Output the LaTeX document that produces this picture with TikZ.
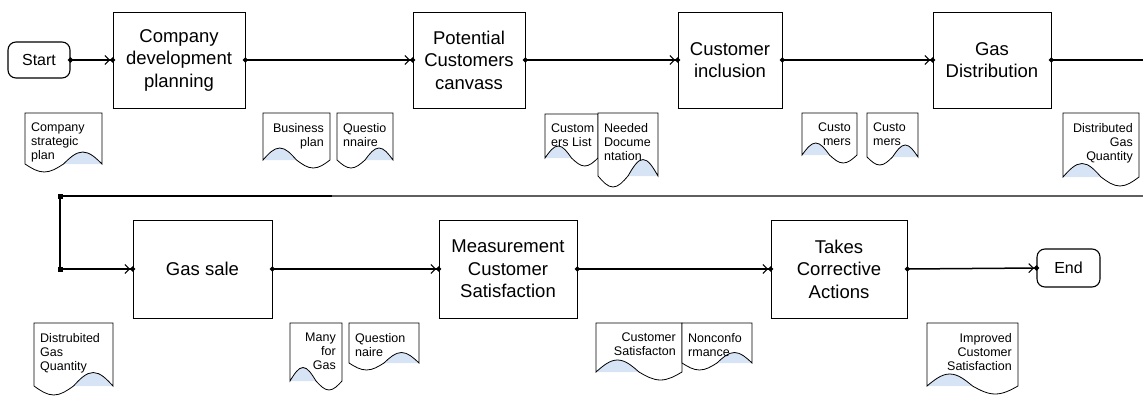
\documentclass[tikz,border=0pt]{standalone}
\usepackage{fontspec}
\setmainfont{Liberation Sans}
\usetikzlibrary{arrows.meta}
\definecolor{docblue}{RGB}{214,228,246}
\definecolor{wrapgray}{RGB}{95,95,95}

\tikzset{
  stepbox/.style={draw, line width=0.8pt, inner sep=0pt, align=center,
    font=\fontsize{18.5}{22.5}\selectfont},
  boxfoot/.style={line width=1.7pt},
  terminal/.style={draw, line width=1.1pt, rounded corners=8pt, inner sep=0pt,
    font=\fontsize{16}{18}\selectfont},
  doctext/.style={inner sep=0pt, font=\fontsize{12.5}{14}\selectfont},
  docline/.style={line width=0.8pt},
  flowline/.style={line width=1.5pt},
  flow/.style={flowline, shorten <=-2.5pt, shorten >=-2.5pt,
    arrows={Circle[length=5pt]-Straight Barb[length=4.5pt,width=9pt,line width=1pt]Circle[length=5pt]}},
  flowout/.style={flowline, shorten <=-2.5pt, arrows={Circle[length=5pt]-}},
  flowin/.style={flowline, shorten >=-2.5pt,
    arrows={-Straight Barb[length=4.5pt,width=9pt,line width=1pt]Circle[length=5pt]}},
  joint/.style={fill, minimum size=5pt, inner sep=0pt}
}

% Document symbol with a wavy lower edge.
% #1 name, #2 left x, #3 right x, #4 top y, #5 base y of the wave,
% #6 signed wave depth (positive: dip on the left, tinted bump on the right),
% #7 l or r text alignment, #8 text
\newcommand\docnote[8]{%
  \pgfmathsetmacro\dqA{#2+0.25*(#3-#2)}%
  \pgfmathsetmacro\dqB{#2+0.5*(#3-#2)}%
  \pgfmathsetmacro\dqC{#2+0.75*(#3-#2)}%
  \ifdim #6pt>0pt
    \pgfmathsetmacro\dqL{#5+(#6)}%
    \pgfmathsetmacro\dqR{#5-1.5*(#6)}%
  \else
    \pgfmathsetmacro\dqL{#5+1.5*(#6)}%
    \pgfmathsetmacro\dqR{#5-(#6)}%
  \fi
  \fill[white] (#2,#4) -- (#2,#5) sin (\dqA,\dqL) cos (\dqB,#5) sin (\dqC,\dqR) cos (#3,#5) -- (#3,#4) -- cycle;
  \ifdim #6pt>0pt
    \fill[docblue] (\dqB,#5) sin (\dqC,\dqR) cos (#3,#5) -- cycle;
  \else
    \fill[docblue] (#2,#5) sin (\dqA,\dqL) cos (\dqB,#5) -- cycle;
  \fi
  \draw[docline] (#2,#4) -- (#2,#5) sin (\dqA,\dqL) cos (\dqB,#5) sin (\dqC,\dqR) cos (#3,#5) -- (#3,#4) -- cycle;
  \if#7l
    \node[doctext, anchor=north west, align=left] (#1) at (#2+6,#4+10) {#8};
  \else
    \node[doctext, anchor=north east, align=right] (#1) at (#3-6,#4+10) {#8};
  \fi
}

\begin{document}
\begin{tikzpicture}[x=1pt, y=-1pt]
\useasboundingbox (0,0) rectangle (1143,396);

% ---- upper row of steps
\node[terminal, minimum width=62pt, minimum height=36pt] (start) at (39,60) {Start};
\node[stepbox, minimum width=132pt, minimum height=96pt] (plan) at (179,60) {Company\\development\\planning};
\node[stepbox, minimum width=112pt, minimum height=96pt] (canvass) at (469,60) {Potential\\Customers\\canvass};
\node[stepbox, minimum width=104pt, minimum height=96pt] (incl) at (730,60) {Customer\\inclusion};
\node[stepbox, minimum width=118pt, minimum height=96pt] (gasdist) at (992,60) {Gas\\Distribution};

% ---- lower row of steps
\node[stepbox, minimum width=139pt, minimum height=98pt] (gassale) at (202.5,269) {Gas sale};
\node[stepbox, minimum width=138pt, minimum height=98pt] (measure) at (508,269) {Measurement\\Customer\\Satisfaction};
\node[stepbox, minimum width=136pt, minimum height=98pt] (correct) at (839,269) {Takes\\Corrective\\Actions};
\node[terminal, minimum width=63pt, minimum height=38pt] (end) at (1068.5,268) {End};

\foreach \b in {plan,canvass,incl,gasdist,gassale,measure,correct}
  \draw[boxfoot] (\b.south west) -- (\b.south east);

% ---- documents, upper row
\docnote{stratplan}{25}{102}{113}{164}{8}{l}{Company\\strategic\\plan}
\docnote{bizplan}{263}{330}{113}{160}{-8}{r}{Business\\plan}
\docnote{questA}{337}{393}{113}{160}{8}{l}{Questio\\nnaire}
\docnote{custlist}{545}{598}{114}{158}{-8}{l}{Custom\\ers List}
\docnote{neededdoc}{598}{658}{113}{176}{11}{l}{Needed\\Docume\\ntation}
\docnote{custA}{802}{857}{113}{155}{-8}{r}{Custo\\mers}
\docnote{custB}{867}{918}{113}{157}{8}{l}{Custo\\mers}
\docnote{distgasA}{1063}{1139}{113}{177}{-9}{r}{Distributed\\Gas\\Quantity}

% ---- documents, lower row
\docnote{distgasB}{34}{113}{323}{386}{9}{l}{Distrubited\\Gas\\Quantity}
\docnote{manygas}{290}{342}{323}{381}{-9}{r}{Many\\for\\Gas}
\docnote{questB}{349}{419}{323}{363}{7}{l}{Question\\naire}
\docnote{custsat}{596}{682}{323}{372}{-8}{r}{Customer\\Satisfacton}
\docnote{noncon}{682}{752}{323}{363}{7}{l}{Nonconfo\\rmance}
\docnote{impsat}{927}{1018}{323}{386}{-8}{r}{Improved\\Customer\\Satisfaction}

% ---- flow, upper row
\draw[flow] (start.east) -- (plan.west);
\draw[flow] (plan.east) -- (canvass.west);
\draw[flow] (canvass.east) -- (incl.west);
\draw[flow] (incl.east) -- (gasdist.west);

% ---- wrap from the upper row down to the lower row
\coordinate (wrapA) at (1143,60);
\coordinate (wrapB) at (1143,196);
\coordinate (fade) at (332,196);
\coordinate (turnA) at (60,196);
\coordinate (turnB) at (60,269);
\draw[flowout] (gasdist.east) -- (wrapA);
\draw[flowline, wrapgray] (wrapB) -- (fade);
\draw[flowline] (fade) -- (turnA);
\draw[line width=2.6pt] (turnA) -- (turnB);
\draw[flowin] (turnB) -- (gassale.west);
\node[joint] (jointA) at (turnA) {};
\node[joint] (jointB) at (turnB) {};

% ---- flow, lower row
\draw[flow] (gassale.east) -- (measure.west);
\draw[flow] (measure.east) -- (correct.west);
\draw[flow] (correct.east) -- (end.west);
\end{tikzpicture}
\end{document}
